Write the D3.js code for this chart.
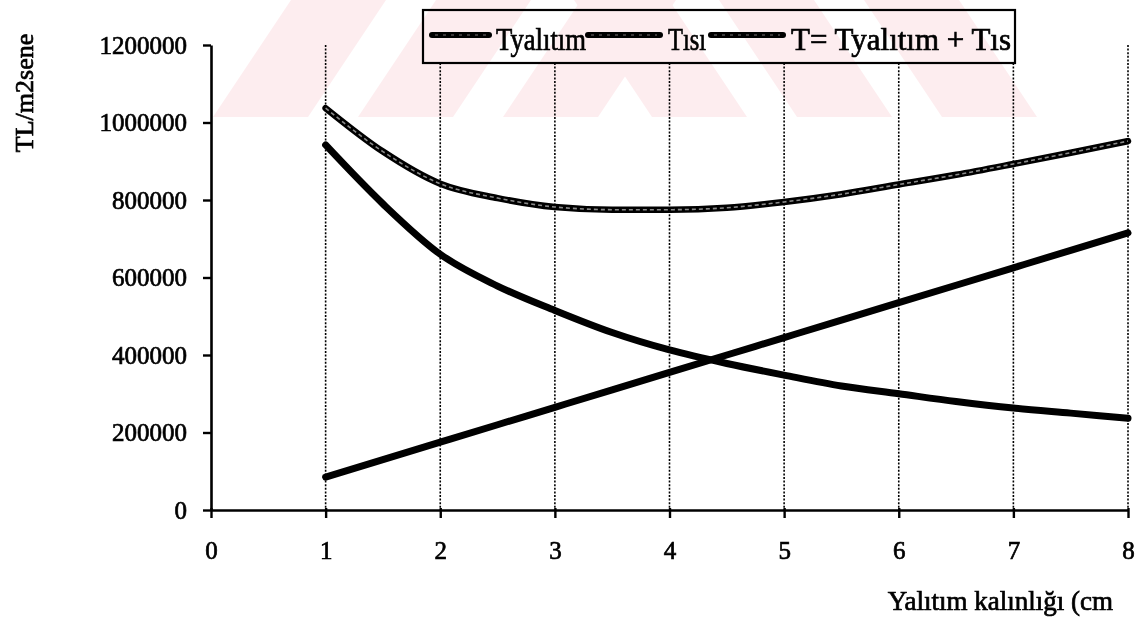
<!DOCTYPE html>
<html>
<head>
<meta charset="utf-8">
<script src="https://cdn.jsdelivr.net/npm/d3@7"></script>
<style>
  html, body { margin: 0; padding: 0; background: #fff; }
  svg { display: block; }
  text { font-family: "Liberation Serif", "Times New Roman", serif; fill: #000; stroke: #000; stroke-width: 0.7px; }
</style>
</head>
<body>
<svg id="chart" width="1138" height="631"></svg>
<script>
// ---- data ----
const xValues   = [1, 1.5, 2, 2.5, 3, 3.5, 4, 4.5, 5, 5.5, 6, 6.5, 7, 7.5, 8];
const tYalitim  = [85000, 130000, 175000, 220000, 265000, 310000, 355000, 400000, 445000, 490000, 535000, 580000, 625000, 670000, 715000];
const tIsi      = [942000, 790000, 660000, 578000, 515000, 458000, 413000, 378000, 348000, 320000, 300000, 280000, 263000, 250000, 237000];
const tToplam   = [1037000, 925000, 842000, 805000, 782000, 775000, 775000, 780000, 795000, 815000, 840000, 865000, 893000, 922000, 952000];
const xTicks    = [0, 1, 2, 3, 4, 5, 6, 7, 8];
const yTicks    = [0, 200000, 400000, 600000, 800000, 1000000, 1200000];
const gridX     = [1, 2, 3, 4, 5, 6, 7, 8];
const seriesNames = ["Tyalıtım", "Tısı", "T= Tyalıtım + Tıs"];
const yTitle = "TL/m2sene";
const xTitle = "Yalıtım kalınlığı (cm";

const svg = d3.select("#chart");
const x = d3.scaleLinear().domain([0, 8]).range([211, 1128]);
const y = d3.scaleLinear().domain([0, 1200000]).range([510, 45]);

// faint watermark stripes at the top (drawn first, then legend box is tinted separately)
const wmColor = "#fdedef";
const bandLeft = [213, 358, 503];
const bandRight = [652, 797, 942];
const H = 117, W = 95, S = 78;

// gridlines
svg.append("g").selectAll("line").data(gridX).join("line")
  .attr("x1", d => x(d)).attr("x2", d => x(d))
  .attr("y1", y(1200000)).attr("y2", y(0))
  .attr("stroke", "#000").attr("stroke-width", 1.6)
  .attr("stroke-dasharray", "2,1.6");

// axes
const yAxis = d3.axisLeft(y).tickValues(yTicks).tickSize(8).tickSizeOuter(0)
  .tickPadding(16).tickFormat(d3.format("d"));
const gy = svg.append("g").attr("transform", `translate(${x(0)},0)`).call(yAxis);
const xAxis = d3.axisBottom(x).tickValues(xTicks).tickSize(8).tickSizeOuter(0)
  .tickPadding(23).tickFormat(d3.format("d"));
const gx = svg.append("g").attr("transform", `translate(0,${y(0)})`).call(xAxis);
[gx, gy].forEach(g => {
  g.select(".domain").attr("stroke", "#000").attr("stroke-width", 2.6);
  g.selectAll(".tick line").attr("stroke", "#000").attr("stroke-width", 2.4);
  g.selectAll(".tick text").style("font-family", "'Liberation Serif', serif")
    .style("font-size", "25px").attr("fill", "#000");
});
gx.selectAll(".tick line").attr("y1", -2);

// axis titles
svg.append("text").attr("transform", "translate(33,93) rotate(-90)")
  .attr("text-anchor", "middle").style("font-size", "26px").text(yTitle);
svg.append("text").attr("x", 1113).attr("y", 610).attr("text-anchor", "end")
  .style("font-size", "27px").text(xTitle);

// series lines
const line = d3.line().x((d, i) => x(xValues[i])).y(d => y(d)).curve(d3.curveMonotoneX);
svg.append("path").datum(tYalitim).attr("d", line)
  .attr("fill", "none").attr("stroke", "#000").attr("stroke-width", 7).attr("stroke-linecap", "round");
svg.append("path").datum(tIsi).attr("d", line)
  .attr("fill", "none").attr("stroke", "#000").attr("stroke-width", 7).attr("stroke-linecap", "round");
svg.append("path").datum(tToplam).attr("d", line)
  .attr("fill", "none").attr("stroke", "#000").attr("stroke-width", 6.5).attr("stroke-linecap", "round");
svg.append("path").datum(tToplam).attr("d", line)
  .attr("fill", "none").attr("stroke", "#8a8a8a").attr("stroke-width", 1.6).attr("stroke-dasharray", "4,3");

// legend
const lg = svg.append("g");
lg.append("rect").attr("x", 423).attr("y", 10).attr("width", 592).attr("height", 53)
  .attr("fill", "#fff").attr("stroke", "#000").attr("stroke-width", 2.2);
const legendLines = [[432, 489], [588, 660], [711, 783]];
const legendText = [[496, 90], [668, 38], [791, 220]];
seriesNames.forEach((name, i) => {
  lg.append("line").attr("x1", legendLines[i][0]).attr("x2", legendLines[i][1])
    .attr("y1", 35).attr("y2", 35).attr("stroke", "#000").attr("stroke-width", 6)
    .attr("stroke-linecap", "round");
  lg.append("line").attr("x1", legendLines[i][0] + 3).attr("x2", legendLines[i][1] - 3)
    .attr("y1", 35).attr("y2", 35).attr("stroke", "#777").attr("stroke-width", 1.2)
    .attr("stroke-dasharray", "3,5");
  lg.append("text").attr("x", legendText[i][0]).attr("y", 50)
    .attr("textLength", legendText[i][1]).attr("lengthAdjust", "spacingAndGlyphs")
    .style("font-size", "31px").text(name);
});

// watermark on top, multiplied so dark marks stay dark
const wm = svg.append("g").style("mix-blend-mode", "multiply");
bandLeft.forEach(b => wm.append("polygon")
  .attr("points", `${b},${H} ${b + W},${H} ${b + W + S},0 ${b + S},0`)
  .attr("fill", wmColor));
bandRight.forEach(b => wm.append("polygon")
  .attr("points", `${b},${H} ${b + W},${H} ${b + W - S},0 ${b - S},0`)
  .attr("fill", wmColor));
</script>
</body>
</html>
